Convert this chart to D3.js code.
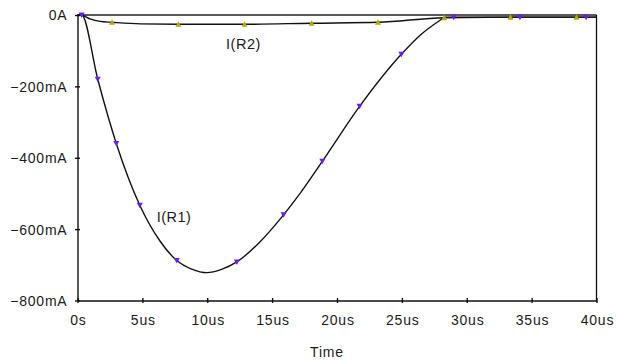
<!DOCTYPE html>
<html>
<head>
<meta charset="utf-8">
<script src="https://cdn.jsdelivr.net/npm/d3@7/dist/d3.min.js"></script>
<style>
  html, body { margin: 0; padding: 0; background: #fff; }
  text { font-family: "Liberation Sans", Arial, sans-serif; fill: #1a1a1a; }
</style>
</head>
<body>
<svg id="chart" width="617" height="360"></svg>
<script>
// ---- data (time in microseconds, current in mA) ----
const r1Time    = [0, 0.32, 1.56, 2.99, 4.80, 6.37, 7.65, 8.8, 9.97, 11.1, 12.28, 14.0, 15.88, 17.17, 18.87, 21.74, 24.96, 26.43, 27.97, 28.3, 29.0, 34.1, 39.2, 40];
const r1Current = [0, 0, -180, -360, -533, -634, -688, -712, -722, -713, -692, -638, -560, -499, -410, -256, -110, -56, -14, -6, -6, -6, -6, -6];
const r1MarkerIdx = [1, 2, 3, 4, 6, 10, 12, 14, 15, 16, 20, 21, 22];

const r2Time    = [0, 0.27, 0.96, 1.74, 2.66, 4.82, 7.78, 12.87, 18.04, 23.16, 28.26, 33.37, 38.46, 40];
const r2Current = [0, 0, -11, -18, -20.5, -25, -26, -26, -23, -20.5, -7.5, -6, -6, -6];
const r2MarkerIdx = [4, 6, 7, 8, 9, 10, 11, 12];

const xTicks = [0, 5, 10, 15, 20, 25, 30, 35, 40];
const xTickLabels = ["0s", "5us", "10us", "15us", "20us", "25us", "30us", "35us", "40us"];
const yTicks = [0, -200, -400, -600, -800];
const yTickLabels = ["0A", "\u2212200mA", "\u2212400mA", "\u2212600mA", "\u2212800mA"];
const seriesNames = ["I(R1)", "I(R2)"];
const xTitle = "Time";

// ---- layout ----
const mLeft = 77.5, mRight = 596.5, mTop = 15, mBottom = 300.5;
const svg = d3.select("#chart");

const x = d3.scaleLinear().domain([0, 40]).range([mLeft, mRight]);
const y = d3.scaleLinear().domain([-800, 0]).range([mBottom, mTop]);

// frame
svg.append("line").attr("x1", mLeft).attr("x2", mRight).attr("y1", mTop).attr("y2", mTop)
  .attr("stroke", "#222").attr("stroke-width", 1.3);
svg.append("line").attr("x1", mRight).attr("x2", mRight).attr("y1", mTop).attr("y2", mBottom)
  .attr("stroke", "#111").attr("stroke-width", 1.3);

// axes
const xAxis = d3.axisBottom(x).tickValues(xTicks)
  .tickFormat((d, i) => xTickLabels[i]).tickSize(0).tickPadding(0);
const gx = svg.append("g").attr("transform", `translate(0,${mBottom})`).call(xAxis);
gx.select(".domain").attr("stroke", "#111").attr("stroke-width", 1.4);
gx.selectAll(".tick line").remove();
gx.selectAll(".tick").append("line").attr("y1", -2.5).attr("y2", 2.5)
  .attr("stroke", "#111").attr("stroke-width", 1.4);
gx.selectAll(".tick text").attr("y", 24.5).attr("dy", null).attr("dx", 0.4)
  .style("font-size", "14px").style("letter-spacing", "0.8px").attr("fill", "#1a1a1a");

const yAxis = d3.axisLeft(y).tickValues(yTicks)
  .tickFormat((d, i) => yTickLabels[i]).tickSize(0).tickPadding(0);
const gy = svg.append("g").attr("transform", `translate(${mLeft},0)`).call(yAxis);
gy.select(".domain").attr("stroke", "#111").attr("stroke-width", 1.4);
gy.selectAll(".tick line").remove();
gy.selectAll(".tick").append("line").attr("x1", -2.5).attr("x2", 2.5)
  .attr("stroke", "#111").attr("stroke-width", 1.4);
gy.selectAll(".tick text").attr("x", -10).attr("dy", "0.35em")
  .style("font-size", "14px").style("letter-spacing", "0.8px").attr("fill", "#1a1a1a");

// axis title
svg.append("text").attr("x", (mLeft + mRight) / 2 - 10).attr("y", 357)
  .attr("text-anchor", "middle").style("font-size", "14px").style("letter-spacing", "0.8px").text(xTitle);

// lines
const line = d3.line().x(d => x(d[0])).y(d => y(d[1])).curve(d3.curveMonotoneX);
const r1 = r1Time.map((t, i) => [t, r1Current[i]]);
const r2 = r2Time.map((t, i) => [t, r2Current[i]]);

svg.append("path").datum(r2).attr("d", line).attr("fill", "none")
  .attr("stroke", "#111").attr("stroke-width", 1.4);
svg.append("path").datum(r1).attr("d", line).attr("fill", "none")
  .attr("stroke", "#111").attr("stroke-width", 1.4);

// markers
const tri = 3;
svg.append("g").selectAll("path").data(r2MarkerIdx.map(i => r2[i])).join("path")
  .attr("d", d => { const cx = x(d[0]), cy = y(d[1]);
    return `M${cx - tri},${cy + 2.5}L${cx + tri},${cy + 2.5}L${cx},${cy - 3}Z`; })
  .attr("fill", "#b0ad00");
svg.append("g").selectAll("path").data(r1MarkerIdx.map(i => r1[i])).join("path")
  .attr("d", d => { const cx = x(d[0]), cy = y(d[1]);
    return `M${cx - tri},${cy - 2.5}L${cx + tri},${cy - 2.5}L${cx},${cy + 3}Z`; })
  .attr("fill", "#6a1cff");

// series labels
svg.append("text").attr("x", x(6.1)).attr("y", y(-580)).style("font-size", "14.5px").style("letter-spacing", "0.5px").text(seriesNames[0]);
svg.append("text").attr("x", x(11.45)).attr("y", y(-95)).style("font-size", "14.5px").style("letter-spacing", "0.5px").text(seriesNames[1]);
</script>
</body>
</html>
